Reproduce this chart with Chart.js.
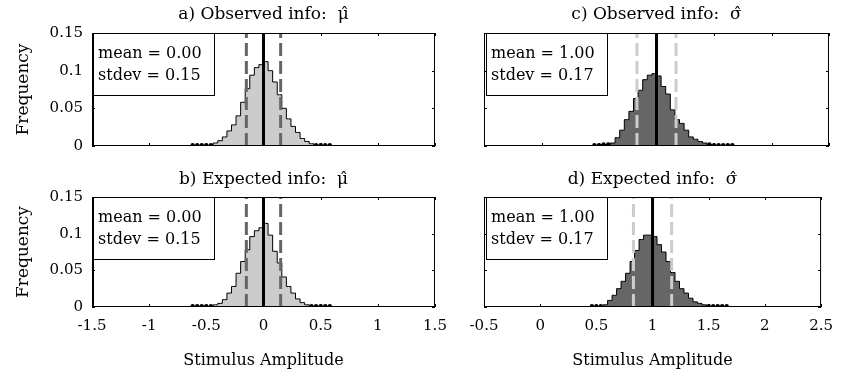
<!DOCTYPE html>
<html>
<head>
<meta charset="utf-8">
<script src="https://cdn.jsdelivr.net/npm/chart.js"></script>
<style>
  body { margin: 0; background: #fff; }
  #wrap { position: relative; width: 843px; height: 375px; overflow: hidden; }
  #wrap canvas { position: absolute; }
</style>
</head>
<body>
<div id="wrap">
  <canvas id="pa" width="460" height="165" style="left:0;top:0"></canvas>
  <canvas id="pc" width="403" height="165" style="left:440px;top:0"></canvas>
  <canvas id="pb" width="460" height="210" style="left:0;top:165px"></canvas>
  <canvas id="pd" width="403" height="210" style="left:440px;top:165px"></canvas>
</div>
<script>
// bin centres of the two histograms
const muBins = [-0.62, -0.58, -0.54, -0.50, -0.46, -0.42, -0.38, -0.34, -0.30, -0.26, -0.22, -0.18, -0.14, -0.10, -0.06, -0.02,
  0.02, 0.06, 0.10, 0.14, 0.18, 0.22, 0.26, 0.30, 0.34, 0.38, 0.42, 0.46, 0.50, 0.54, 0.58];
const sigmaBins = [0.46, 0.50, 0.54, 0.58, 0.62, 0.66, 0.70, 0.74, 0.78, 0.82, 0.86, 0.90, 0.94, 0.98, 1.02, 1.06,
  1.10, 1.14, 1.18, 1.22, 1.26, 1.30, 1.34, 1.38, 1.42, 1.46, 1.50, 1.54, 1.58, 1.62, 1.66];

// frequencies
const freqA = [0.001, 0.001, 0.001, 0.001, 0.001, 0.004, 0.007, 0.012, 0.020, 0.028, 0.040, 0.058, 0.076, 0.094, 0.104, 0.108,
  0.112, 0.100, 0.085, 0.068, 0.050, 0.036, 0.026, 0.018, 0.010, 0.006, 0.003, 0.001, 0.001, 0.001, 0.001];
const freqB = [0.001, 0.001, 0.001, 0.001, 0.001, 0.003, 0.005, 0.010, 0.019, 0.028, 0.046, 0.062, 0.078, 0.096, 0.104, 0.108,
  0.114, 0.098, 0.076, 0.060, 0.041, 0.028, 0.019, 0.011, 0.006, 0.003, 0.001, 0.001, 0.001, 0.001, 0.001];
const freqC = [0.001, 0.001, 0.002, 0.002, 0.004, 0.011, 0.021, 0.035, 0.046, 0.063, 0.074, 0.088, 0.094, 0.096, 0.093, 0.079,
  0.069, 0.048, 0.035, 0.030, 0.021, 0.012, 0.009, 0.006, 0.004, 0.002, 0.001, 0.001, 0.001, 0.001, 0.001];
const freqD = [0.001, 0.001, 0.001, 0.003, 0.009, 0.016, 0.025, 0.035, 0.046, 0.062, 0.077, 0.092, 0.098, 0.098, 0.096, 0.085,
  0.075, 0.062, 0.047, 0.035, 0.025, 0.019, 0.012, 0.007, 0.005, 0.003, 0.001, 0.001, 0.001, 0.001, 0.001];

const titles = ['a) Observed info:  μ̂', 'b) Expected info:  μ̂', 'c) Observed info:  σ̂', 'd) Expected info:  σ̂'];
const means = [0.00, 0.00, 1.00, 1.00];
const stdevs = [0.15, 0.15, 0.17, 0.17];

const muRange = [-1.5, 1.5];
const sigmaRange = [-0.5, 2.5];
const xStep = 0.5;
const yRange = [0, 0.15];
const yStep = 0.05;

const serif = '"DejaVu Serif", serif';
const fmt = v => String(Number(v.toFixed(2)));

const frame = {
  id: 'frame',
  afterDraw(chart, args, o) {
    const { ctx, chartArea: a, scales: { x, y } } = chart;
    ctx.save();
    ctx.strokeStyle = '#000';
    ctx.lineWidth = 1;
    ctx.strokeRect(a.left + 0.5, a.top + 0.5, a.right - a.left - 1, a.bottom - a.top - 1);
    ctx.beginPath();
    x.ticks.forEach(t => {
      const px = Math.round(x.getPixelForValue(t.value)) + 0.5;
      ctx.moveTo(px, a.bottom); ctx.lineTo(px, a.bottom - 3);
      ctx.moveTo(px, a.top); ctx.lineTo(px, a.top + 3);
    });
    y.ticks.forEach(t => {
      const py = Math.round(y.getPixelForValue(t.value)) + 0.5;
      ctx.moveTo(a.left, py); ctx.lineTo(a.left + 3, py);
      ctx.moveTo(a.right, py); ctx.lineTo(a.right - 3, py);
    });
    ctx.stroke();
    if (o.thickLeft) {
      ctx.lineWidth = 2;
      ctx.beginPath();
      ctx.moveTo(a.left + 1, a.top); ctx.lineTo(a.left + 1, a.bottom);
      ctx.stroke();
      ctx.lineWidth = 1;
    }
    // stats box
    const bx = a.left + o.boxDx, by = a.top;
    ctx.fillStyle = '#fff';
    ctx.fillRect(bx, by, 122, 63);
    ctx.strokeRect(bx + 0.5, by + 0.5, 121, 62);
    ctx.fillStyle = '#000';
    ctx.font = '16px ' + serif;
    ctx.textBaseline = 'middle';
    ctx.fillText('mean = ' + o.mean.toFixed(2), bx + 5, by + 21);
    ctx.fillText('stdev = ' + o.sd.toFixed(2), bx + 5, by + 43);
    ctx.restore();
  }
};

function vline(xv, color, width, dash) {
  return {
    data: [{ x: xv, y: yRange[0] }, { x: xv, y: yRange[1] }],
    borderColor: color,
    borderWidth: width,
    borderDash: dash,
    pointRadius: 0,
    fill: false
  };
}

function makePanel(id, i, bins, freq, range, fillColor, dashColor, opt) {
  const m = means[i], s = stdevs[i];
  new Chart(document.getElementById(id), {
    type: 'line',
    data: {
      datasets: [
        vline(m, '#000', 3, []),
        vline(m - s, dashColor, 3, [13, 5]),
        vline(m + s, dashColor, 3, [13, 5]),
        {
          data: bins.map((b, k) => ({ x: b, y: freq[k] })),
          stepped: 'middle',
          fill: 'origin',
          backgroundColor: fillColor,
          borderColor: '#000',
          borderWidth: 1,
          pointRadius: c => (c.raw && c.raw.y <= 0.002 ? 2.2 : 0),
          pointBackgroundColor: '#000',
          pointBorderWidth: 0
        }
      ]
    },
    options: {
      responsive: false,
      animation: false,
      layout: { padding: { left: 0, right: opt.padRight, top: 0, bottom: 0 } },
      plugins: {
        legend: { display: false },
        tooltip: { enabled: false },
        title: {
          display: true,
          text: titles[i],
          fullSize: false,
          color: '#000',
          font: { family: serif, size: 17, weight: 'normal' },
          padding: { top: 4, bottom: opt.titleBottom }
        },
        frame: { mean: m, sd: s, boxDx: opt.boxDx, thickLeft: opt.thickLeft }
      },
      scales: {
        x: {
          type: 'linear',
          min: range[0],
          max: range[1],
          grid: { display: false, drawTicks: false },
          border: { display: false },
          ticks: {
            display: opt.xLabels,
            stepSize: xStep,
            padding: 10,
            color: '#000',
            font: { family: serif, size: 15 },
            callback: fmt
          },
          title: {
            display: opt.xLabels,
            text: 'Stimulus Amplitude',
            color: '#000',
            font: { family: serif, size: 16 },
            padding: { top: 0, bottom: 5 }
          },
          afterFit: sc => { sc.height = opt.xHeight; }
        },
        y: {
          min: yRange[0],
          max: yRange[1],
          grid: { display: false, drawTicks: false },
          border: { display: false },
          ticks: {
            display: opt.yLabels,
            stepSize: yStep,
            padding: 9,
            color: '#000',
            font: { family: serif, size: 15 },
            callback: fmt
          },
          title: {
            display: opt.yLabels,
            text: 'Frequency',
            color: '#000',
            font: { family: serif, size: 17 },
            padding: { top: 13, bottom: 0 }
          },
          afterFit: sc => { sc.width = opt.yWidth; }
        }
      }
    },
    plugins: [frame]
  });
}

const lightGrey = 'rgb(204,204,204)';
const darkGrey = 'rgb(102,102,102)';

makePanel('pa', 0, muBins, freqA, muRange, lightGrey, darkGrey,
  { padRight: 25, titleBottom: 8.6, xLabels: false, xHeight: 19, yLabels: true, yWidth: 92, boxDx: 1, thickLeft: true });
makePanel('pb', 1, muBins, freqB, muRange, lightGrey, darkGrey,
  { padRight: 25, titleBottom: 7.6, xLabels: true, xHeight: 68, yLabels: true, yWidth: 92, boxDx: 1, thickLeft: true });
makePanel('pc', 2, sigmaBins, freqC, sigmaRange, darkGrey, lightGrey,
  { padRight: 14, titleBottom: 8.6, xLabels: false, xHeight: 19, yLabels: false, yWidth: 44, boxDx: 2, thickLeft: false });
makePanel('pd', 3, sigmaBins, freqD, sigmaRange, darkGrey, lightGrey,
  { padRight: 14, titleBottom: 7.6, xLabels: true, xHeight: 68, yLabels: false, yWidth: 44, boxDx: 2, thickLeft: false });
</script>
</body>
</html>
